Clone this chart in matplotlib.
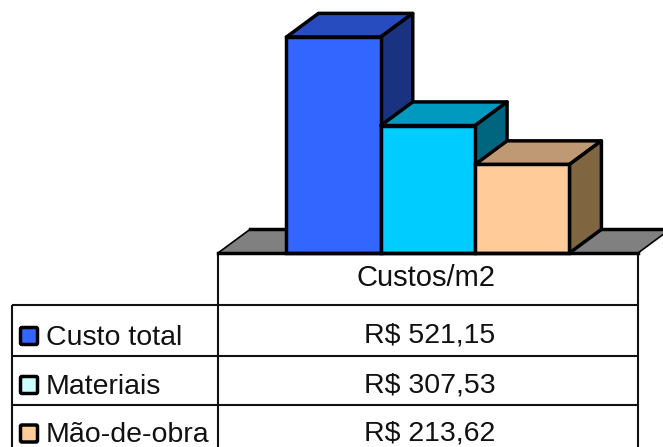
import matplotlib
matplotlib.use("Agg")
import matplotlib.pyplot as plt
from matplotlib.patches import FancyBboxPatch

plt.rcParams["font.family"] = ["Liberation Sans", "DejaVu Sans"]

series = ["Custo total", "Materiais", "Mão-de-obra"]
values = [521.15, 307.53, 213.62]
column = "Custos/m2"
front_colors = ["#3366FF", "#00CCFF", "#FFCC99"]
top_colors = ["#264CBF", "#0099BF", "#BF9973"]
side_colors = ["#1A3380", "#006680", "#806640"]
swatch_colors = ["#3366FF", "#CCFFFF", "#FFCC99"]

W, H = 663, 447
fig = plt.figure(figsize=(W / 100, H / 100), dpi=100)

# overlay in pixel coordinates, for the data table
tb = fig.add_axes([0, 0, 1, 1])
tb.set_xlim(0, W)
tb.set_ylim(H, 0)
tb.axis("off")

# bar axes: zero sits on the table's top edge
ax = fig.add_axes([218 / W, 1 - 253 / H, 420 / W, 253 / H])
ax.set_xlim(-1.226, 3.227)
ax.set_ylim(0, 610.4)
ax.axis("off")
ax.patch.set_alpha(0)

DX, DY = 0.339, 57.0
EDGE = 2.5

# floor: thin outline, heavy back edge
x0, x1 = ax.get_xlim()
ax.fill([x0, x0 + DX, x1 + DX, x1], [0, DY, DY, 0], facecolor="#808080", edgecolor="black",
        lw=1.2, clip_on=False, zorder=1, joinstyle="round")
ax.plot([x0 + DX, x1 + DX], [DY, DY], color="black", lw=EDGE, clip_on=False, zorder=1)

for i, val in enumerate(values):
    z = 2 + i
    l, r = i - 0.5, i + 0.5
    ax.fill([l, l + DX, r + DX, r], [val, val + DY, val + DY, val], facecolor=top_colors[i],
            edgecolor="black", lw=EDGE, clip_on=False, zorder=z, joinstyle="round")
    ax.fill([r, r + DX, r + DX, r], [0, DY, val + DY, val], facecolor=side_colors[i],
            edgecolor="black", lw=EDGE, clip_on=False, zorder=z, joinstyle="round")
    ax.bar(i, val, width=1.0, color=front_colors[i], edgecolor="black", lw=EDGE,
           clip_on=False, zorder=z)

# table grid
TBL_L, TBL_R, KEY_L = 218, 638, 12
ROWS = [253, 305, 356, 405]
GRID = dict(color="#111111", lw=1.5, solid_capstyle="butt")
tb.plot([TBL_L, TBL_L], [ROWS[0], H], **GRID)
tb.plot([TBL_R, TBL_R], [ROWS[0], H], **GRID)
tb.plot([KEY_L, KEY_L], [ROWS[1], H], **GRID)
for y in ROWS[1:]:
    tb.plot([KEY_L, TBL_R], [y, y], **GRID)
ax.plot([x0, x1], [0, 0], color="black", lw=EDGE, clip_on=False, zorder=6)

FS = 20.5
TXT = "#111111"
tb.text(426, 286, column, ha="center", va="baseline", fontsize=21, color=TXT)

key_y = [345, 394, 442]
value_y = [343, 392, 441]
swatch_y = [327.5, 376.5, 425]
for name, val, ky, vy, sy, col in zip(series, values, key_y, value_y, swatch_y, swatch_colors):
    tb.text(46, ky, name, ha="left", va="baseline", fontsize=FS, color=TXT)
    tb.text(429.5, vy, f"R$ {val:.2f}".replace(".", ","),
            ha="center", va="baseline", fontsize=FS, color=TXT)
    tb.add_patch(FancyBboxPatch((20.5, sy), 17, 17, boxstyle="round,pad=0,rounding_size=1.5",
                                facecolor=col, edgecolor="black", lw=EDGE))

fig.savefig("out.png", dpi=100)
